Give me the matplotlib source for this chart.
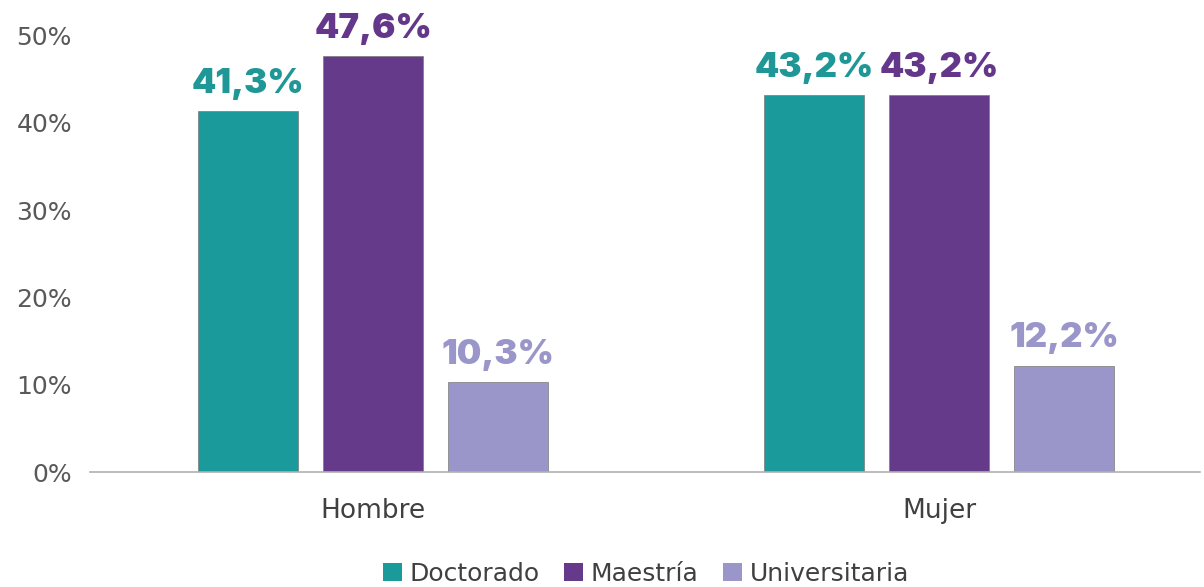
import matplotlib
matplotlib.use("Agg")
import matplotlib.pyplot as plt
import numpy as np

categories = ["Hombre", "Mujer"]
series = ["Doctorado", "Maestría", "Universitaria"]
doctorado = [41.3, 43.2]
maestria = [47.6, 43.2]
universitaria = [10.3, 12.2]
yticks = [0, 10, 20, 30, 40, 50]

values = [doctorado, maestria, universitaria]
bar_colors = ["#1b9a9b", "#663a8b", "#9a96c9"]
label_colors = ["#1f9797", "#64378b", "#9a96c9"]

W, H = 1204, 587
fig = plt.figure(figsize=(W / 100, H / 100), dpi=100)
ax = fig.add_axes([90 / W, (H - 472) / H, 1110 / W, 472 / H])

x = np.arange(len(categories))
width = 0.177
offsets = [-0.221, 0.0, 0.221]
lab_font = "Inter"
txt_font = "DejaVu Sans"
handles = []
for vals, off, c, lc, name in zip(values, offsets, bar_colors, label_colors, series):
    b = ax.bar(x + off, vals, width, color=c, edgecolor="#7a7a7a", linewidth=0.5, label=name, zorder=2)
    handles.append(b)
    for xi, v in zip(x + off, vals):
        ax.text(xi, v + 2.1, f"{v:.1f}%".replace(".", ","), ha="center", va="baseline",
                color=lc, fontsize=25, fontweight="black", family=lab_font, clip_on=False)

ax.set_xlim(-0.5, 1.461)
ax.set_ylim(0, 54.07)
ax.set_yticks(yticks)
ax.set_yticklabels([f"{t}%" for t in yticks], fontsize=18, color="#595959", family=txt_font)
ax.set_xticks(x)
ax.set_xticklabels(categories, fontsize=19, color="#404040", family=txt_font)
ax.tick_params(axis="both", length=0)
ax.tick_params(axis="y", pad=13)
ax.tick_params(axis="x", pad=19)
for s in ["top", "right", "left"]:
    ax.spines[s].set_visible(False)
ax.spines["bottom"].set_color("#b0b0b0")
ax.spines["bottom"].set_linewidth(1.2)

leg = fig.legend(handles=handles, labels=series, loc="center", bbox_to_anchor=(646 / W, 1 - 574 / H),
                 ncol=3, frameon=False, handlelength=0.75, handleheight=0.75,
                 handletextpad=0.3, columnspacing=1.0, prop={"family": txt_font, "size": 18})
for t in leg.get_texts():
    t.set_color("#404040")
for h in leg.legend_handles:
    h.set_edgecolor("none")

fig.savefig("out.png", dpi=100)
